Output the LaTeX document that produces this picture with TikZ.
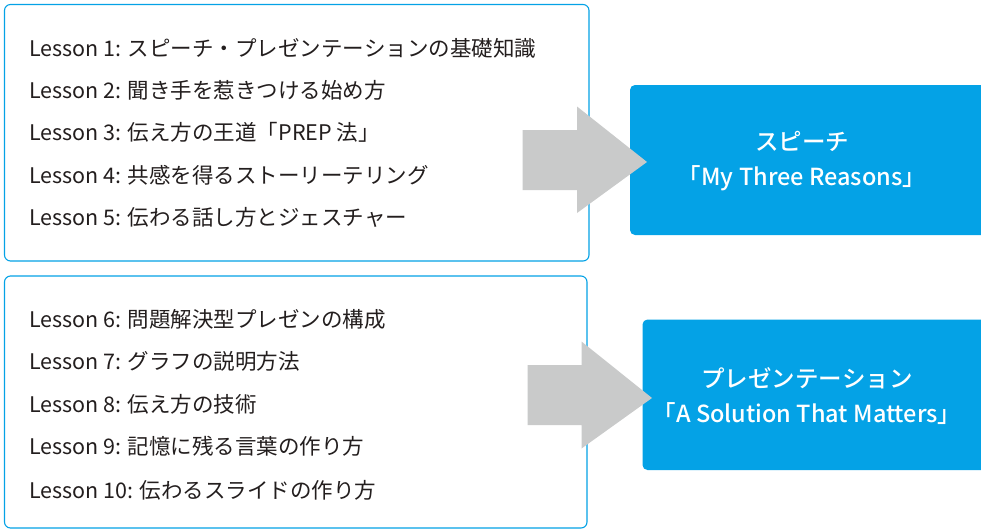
\documentclass[tikz,border=0pt]{standalone}
\usepackage{fontspec}
\setmainfont{Noto Sans CJK JP}
\newfontfamily\titlefont{Noto Sans CJK JP Medium}
\definecolor{mainblue}{RGB}{4,162,230}
\definecolor{arrowgray}{RGB}{201,202,202}
\definecolor{textdark}{RGB}{35,30,30}
\begin{document}
\begin{tikzpicture}[x=1pt,y=-1pt,
  listbox/.style={draw=mainblue,line width=1.1pt,rounded corners=6pt,fill=white},
  lesson/.style={anchor=west,inner sep=0pt,font=\fontsize{21.5}{24}\selectfont,text=textdark},
  goalbox/.style={fill=mainblue,rounded corners=5pt},
  goaltext/.style={align=center,text=white,inner sep=0pt,font=\fontsize{23.5}{35}\selectfont\titlefont},
  bigarrow/.style={fill=arrowgray}]
\useasboundingbox (0,0) rectangle (981,530);
% list boxes
\draw[listbox] (4.5,4.5) rectangle (589,261);
\draw[listbox] (4.5,276) rectangle (587,528);
% lessons, box 1
\node[lesson] (l1) at (29,48) {Lesson 1: スピーチ・プレゼンテーションの基礎知識};
\node[lesson] (l2) at (29,90) {Lesson 2: 聞き手を惹きつける始め方};
\node[lesson] (l3) at (29,132) {Lesson 3: 伝え方の王道「PREP 法」};
\node[lesson] (l4) at (29,175) {Lesson 4: 共感を得るストーリーテリング};
\node[lesson] (l5) at (29,217) {Lesson 5: 伝わる話し方とジェスチャー};
% lessons, box 2
\node[lesson] (l6) at (29,319) {Lesson 6: 問題解決型プレゼンの構成};
\node[lesson] (l7) at (29,361) {Lesson 7: グラフの説明方法};
\node[lesson] (l8) at (29,404) {Lesson 8: 伝え方の技術};
\node[lesson] (l9) at (29,446) {Lesson 9: 記憶に残る言葉の作り方};
\node[lesson] (l10) at (29,490) {Lesson 10: 伝わるスライドの作り方};
% goal boxes
\fill[goalbox] (630,85) rectangle (992,235);
\fill[goalbox] (642.5,319.5) rectangle (992,470);
\node[goaltext] (g1) at (802,161) {スピーチ\\「My Three Reasons」};
\node[goaltext] (g2) at (807,396) {プレゼンテーション\\「A Solution That Matters」};
% arrows
\fill[bigarrow] (522.5,130) -- (577,130) -- (577,106.5) -- (647,162) -- (577,213) -- (577,190) -- (522.5,190) -- cycle;
\fill[bigarrow] (527.5,365) -- (581.5,365) -- (581.5,341.5) -- (652,398) -- (581.5,448.5) -- (581.5,425) -- (527.5,425) -- cycle;
\end{tikzpicture}
\end{document}
